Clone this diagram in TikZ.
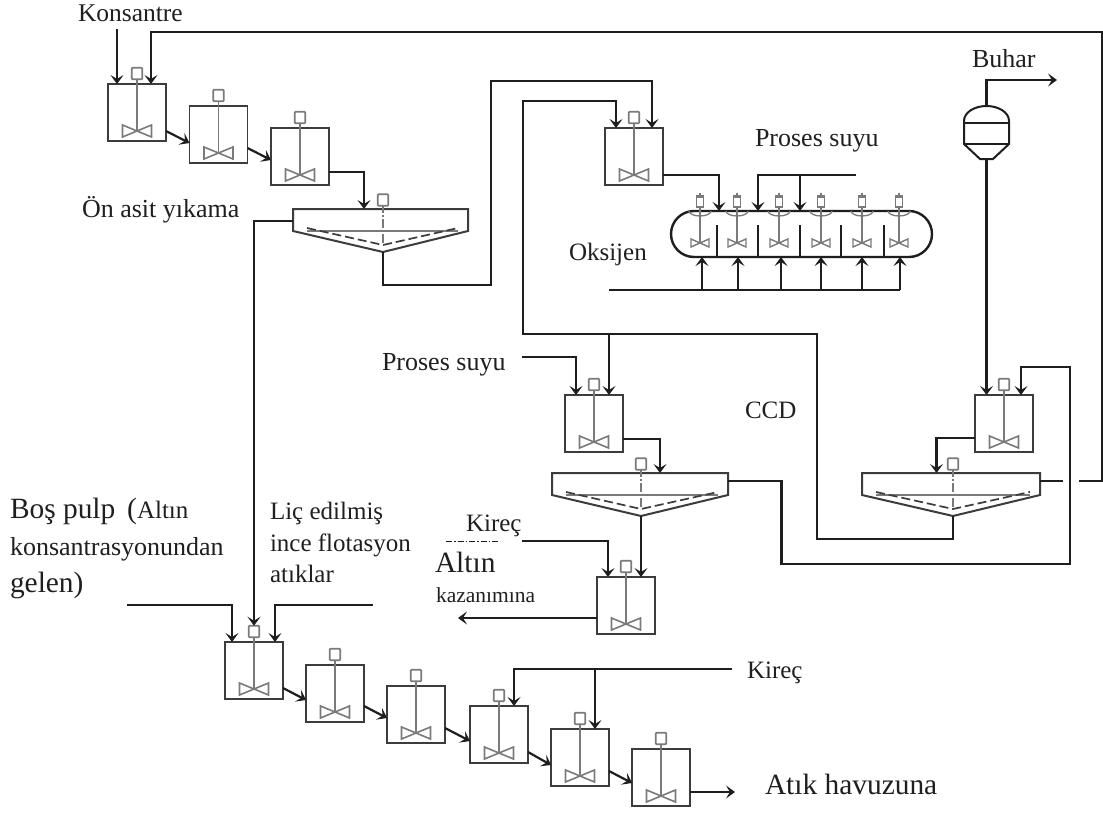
\documentclass[tikz,border=0pt]{standalone}
\usepackage{fontspec}
\setmainfont{Liberation Serif}
\usetikzlibrary{arrows.meta}
\definecolor{pipec}{HTML}{1E1E1E}
\definecolor{boxc}{HTML}{3C3C3C}
\definecolor{gc}{HTML}{7A7A7A}
\tikzset{
  pipe/.style={draw=pipec,line width=2.2pt,line join=miter},
  flow/.style={pipe,-{Stealth[length=9pt,width=13pt,inset=4pt]}},
  tankbox/.style={draw=boxc,line width=1.9pt,minimum width=58pt,minimum height=57pt,inner sep=0pt,outer sep=0pt,anchor=north west},
  motorbox/.style={draw=gc,line width=1.7pt,minimum width=10.5pt,minimum height=11.5pt,inner sep=0pt,outer sep=0pt,fill=white,rounded corners=0.8pt},
  shaftl/.style={draw=gc,line width=1.6pt},
  imp/.style={draw=gc,line width=1.6pt,line join=miter},
  lbl/.style={anchor=base west,inner sep=0pt,outer sep=0pt,text=black!88},
  fa/.style={font=\fontsize{25}{25}\selectfont},
  fd/.style={font=\fontsize{26}{26}\selectfont},
  fb/.style={font=\fontsize{29.4}{29.4}\selectfont},
  fc/.style={font=\fontsize{21.5}{21.5}\selectfont},
}
% name, left, top
\newcommand{\tankat}[3]{%
  \begin{scope}[shift={(#2,#3)}]
    \node[tankbox] (#1) at (0,0) {};
    \draw[shaftl] (29,-5) -- (29,47);
    \draw[imp] (29,47) -- (14.5,41) -- (14.5,53) -- cycle;
    \draw[imp] (29,47) -- (43.5,41) -- (43.5,53) -- cycle;
    \node[motorbox] (#1m) at (29,-10.5) {};
  \end{scope}}
% name, left, top, width, apex x
\newcommand{\settler}[5]{%
  \begin{scope}[shift={(#2,#3)}]
    \draw[draw=boxc,line width=2pt,line join=miter] (0,0) -- (#4,0) -- (#4,22) -- (#5,43) -- (0,22) -- cycle;
    \draw[gc,line width=1.5pt] (14,22) -- (#4-10,22);
    \draw[boxc,line width=1.7pt,dash pattern=on 9pt off 4pt] (14,19) -- (#5,36) -- (#4-10,19);
    \draw[gc,line width=1.6pt,dash pattern=on 9pt off 2pt on 2pt off 2pt] (#5,-5) -- (#5,36);
    \node[motorbox] (#1m) at (#5,-9) {};
    \coordinate (#1top) at (0,0);
    \coordinate (#1right) at (#4,8);
    \coordinate (#1left) at (0,12);
    \coordinate (#1apex) at (#5,43);
  \end{scope}}
% name, shaft x
\newcommand{\agit}[2]{%
  \begin{scope}[shift={(#2,0)}]
    \draw[gc,line width=1.3pt] (-11,211) arc[start angle=180,end angle=360,x radius=11pt,y radius=5pt];
    \draw[shaftl] (0,205) -- (0,243);
    \draw[imp,line width=1.4pt] (0,243) -- (-9,239) -- (-9,247) -- cycle;
    \draw[imp,line width=1.4pt] (0,243) -- (9,239) -- (9,247) -- cycle;
    \node[draw=gc,line width=1.4pt,minimum width=7pt,minimum height=10pt,inner sep=0pt,fill=white] (#1) at (0,202) {};
    \draw[gc,line width=2pt] (-4,196) -- (4,196);
    \draw[gc,line width=1.6pt] (0,192.5) -- (0,196);
  \end{scope}}
\begin{document}
\begin{tikzpicture}[x=1pt,y=-1pt]
\useasboundingbox (0,0) rectangle (1103,814);
\fill[white] (0,0) rectangle (1103,814);
% tanks
\tankat{a}{108}{84}
\tankat{b}{189.5}{106}
\tankat{c}{271}{128}
\tankat{d}{605}{128}
\tankat{e}{565}{395}
\tankat{f}{975}{395}
\tankat{g}{597}{577}
\tankat{h}{225}{642}
\tankat{i}{306}{665}
\tankat{j}{387}{686}
\tankat{k}{470}{706}
\tankat{l}{551}{729}
\tankat{m}{632}{749}
% settlers
\settler{s}{293}{209}{175}{90}
\settler{u}{552}{473}{176}{89}
\settler{v}{862}{473}{178}{91}
% autoclave
\node[draw=pipec,line width=2.4pt,rounded corners=23pt,minimum width=261pt,minimum height=46pt,inner sep=0pt,outer sep=0pt] (ac) at (801.5,234) {};
\foreach \x in {717,758,800,841,884}{\draw[pipe] (\x,225) -- (\x,257);}
\agit{aa}{700}\agit{ab}{737}\agit{ag}{779}\agit{ad}{821}\agit{ae}{862}\agit{af}{899}
% vessel
\node[inner sep=0pt,outer sep=0pt,minimum width=45pt,minimum height=53pt] (ves) at (986.5,132.5) {};
\draw[pipe,line width=2pt] (964,144) -- (964,121) .. controls (964,112) and (975,106) .. (986.5,106) .. controls (998,106) and (1009,112) .. (1009,121) -- (1009,144) -- (993,159) -- (980,159) -- cycle;
\draw[pipe,line width=1.8pt] (964,123) -- (1009,123) (964,144) -- (1009,144);
% named free ends
\coordinate (kons) at (117,29);
\coordinate (ox1) at (609,290);
\coordinate (ox2) at (900,290);
\coordinate (ps1) at (856,175);
\coordinate (ps2) at (522,357);
\coordinate (kir1) at (538,541);
\coordinate (kir2) at (732,669);
\coordinate (bp1) at (127,605);
\coordinate (bp2) at (373,605);
\coordinate (buh) at (1057,80);
\coordinate (alt) at (458,618);
\coordinate (atk) at (735,792);
\coordinate (vgap) at (1063,481);
\coordinate (recirc) at (1079,481);
\coordinate (thin) at (254,482);
% first train
\draw[flow] (kons) -- (a.north -| kons);
\draw[pipe] (vright) -- (vgap);
\draw[flow] (recirc) -| (1102,32) -| (a.north -| 151,0);
\draw[flow] (a.east |- 0,131) -- (b.west |- 0,143);
\draw[flow] (b.east |- 0,148) -- (c.west |- 0,160);
\draw[flow] (c.east |- 0,172) -| (stop -| 364,0);
\draw[pipe] (sleft) -| (thin);
\draw[flow,line width=1.5pt] (thin) -- (hm.north);
\draw[flow] (sapex) |- (491,285) |- (652,81) -- (d.north -| 652,0);
\draw[flow] (vapex) |- (817,539) |- (523,334) |- (616,101) -- (d.north -| 616,0);
\draw[flow] (609,334) -- (e.north -| 609,0);
% autoclave
\draw[flow] (d.east |- 0,175) -| (ac.north -| 719,0);
\draw[flow] (ps1) -| (ac.north -| 758,0);
\draw[flow] (800,175) -- (ac.north -| 800,0);
\draw[pipe] (ox1) -- (ox2);
\foreach \x in {702,738,781,821,862,900}{\draw[flow] (ox1 -| \x,0) -- (ac.south -| \x,0);}
% CCD
\draw[flow] (ps2) -| (e.north -| 576,0);
\draw[flow] (e.east |- 0,439) -| (utop -| 660,0);
\draw[flow] (uapex) -- (g.north -| uapex);
\draw[flow] (kir1) -| (g.north -| 608,0);
\draw[pipe,line width=1pt,dash pattern=on 6pt off 2pt on 1.5pt off 2pt] (446,541) -- (500,541);
\draw[pipe,line width=1.4pt] (522,541) -- (kir1);
\draw[flow] (g.west |- alt) -- (alt);
\draw[flow] (uright) -| (781.5,564) -| (1070,367) -| (f.north -| 1021,0);
\draw[flow] (ves.north) |- (buh);
\draw[flow] (ves.south) -- (f.north -| ves.south);
\draw[flow] (f.west |- 0,438) -| (vtop -| 936.5,0);
% bottom train
\draw[flow] (bp1) -| (h.north -| 232,0);
\draw[flow] (bp2) -| (h.north -| 275,0);
\draw[flow] (h.east |- 0,688) -- (i.west |- 0,700);
\draw[flow] (i.east |- 0,706) -- (j.west |- 0,718);
\draw[flow] (j.east |- 0,728) -- (k.west |- 0,741);
\draw[flow] (k.east |- 0,752) -- (l.west |- 0,765);
\draw[flow] (l.east |- 0,771) -- (m.west |- 0,783);
\draw[flow] (kir2) -| (k.north -| 514,0);
\draw[flow] (595,669) -- (l.north -| 595,0);
\draw[flow] (m.east |- atk) -- (atk);
% labels
\node[lbl,fa] (n1) at (78,21) {\fontsize{25.5}{25.5}\selectfont Konsantre};
\node[lbl,fd] (n2) at (82,217) {Ön asit yıkama};
\node[lbl,fd] (n3) at (755,146) {Proses suyu};
\node[lbl,fa] (n4) at (569,260) {Oksijen};
\node[lbl,fd] (n5) at (972,67) {Buhar};
\node[lbl,fa] (n6) at (745,418) {CCD};
\node[lbl,fd] (n7) at (382,370) {Proses suyu};
\node[lbl,fa] (n8) at (466,531) {Kireç};
\node[lbl,fa] (n9) at (747,678) {Kireç};
\node[lbl,fa] (n10) at (270,519) {Liç edilmiş};
\node[lbl,fa] (n11) at (270,551) {ince flotasyon};
\node[lbl,fa] (n12) at (270,582) {atıklar};
\node[lbl,fb] (n13) at (10,518) {Boş pulp};
\node[lbl,fb] (n13b) at (127,518) {(};
\node[lbl,fa] (n13c) at (137,518) {Altın};
\node[lbl,fd] (n14) at (10,555) {konsantrasyonundan};
\node[lbl,fb] (n15) at (10,592) {gelen)};
\node[lbl,fb] (n16) at (435,572) {Altın};
\node[lbl,fc] (n17) at (436,602) {kazanımına};
\node[lbl,fb] (n18) at (765,794) {Atık havuzuna};
\end{tikzpicture}
\end{document}
